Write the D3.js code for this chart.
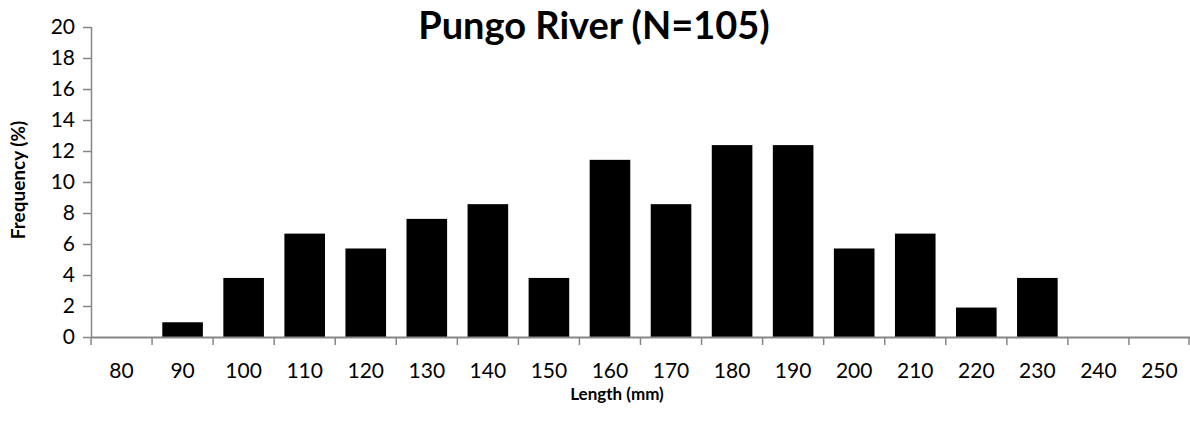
<!DOCTYPE html>
<html>
<head>
<meta charset="utf-8">
<script src="https://cdn.jsdelivr.net/npm/d3@7"></script>
<style>
  body { margin: 0; background: #fff; }
  svg { display: block; font-family: Lato, "Open Sans", sans-serif; }
</style>
</head>
<body>
<div id="plot"></div>
<script>
// Length classes (mm) and percent frequency, N = 105
var lengths = ["80", "90", "100", "110", "120", "130", "140", "150", "160", "170",
               "180", "190", "200", "210", "220", "230", "240", "250"];
var freq = [0, 0.95, 3.81, 6.67, 5.71, 7.62, 8.57, 3.81, 11.43, 8.57,
            12.38, 12.38, 5.71, 6.67, 1.90, 3.81, 0, 0];
var yTicks = [0, 2, 4, 6, 8, 10, 12, 14, 16, 18, 20];

var W = 1190, H = 421;
var margin = {top: 27, right: 0, bottom: 84, left: 91};
var width = W - margin.left - margin.right,
    height = H - margin.top - margin.bottom;

var svg = d3.select("#plot").append("svg")
    .attr("width", W)
    .attr("height", H);

var g = svg.append("g")
    .attr("transform", "translate(" + margin.left + "," + margin.top + ")");

var x = d3.scaleBand()
    .domain(lengths)
    .range([0, width])
    .paddingInner(0.335)
    .paddingOuter(0.1675);

var y = d3.scaleLinear()
    .domain([0, 20])
    .range([height, 0]);

// bars
g.selectAll("rect.bar")
    .data(lengths.map(function(d, i) { return {len: d, v: freq[i]}; }))
    .enter().append("rect")
    .attr("class", "bar")
    .attr("x", function(d) { return x(d.len); })
    .attr("y", function(d) { return y(d.v); })
    .attr("width", x.bandwidth())
    .attr("height", function(d) { return height - y(d.v); })
    .attr("fill", "#000");

// y axis
var yAxis = g.append("g")
    .call(d3.axisLeft(y).tickValues(yTicks).tickSize(8).tickPadding(8));
yAxis.select(".domain").attr("stroke", "#868686").attr("stroke-width", 1.5)
    .attr("d", "M0.5," + y(20) + "V" + y(0));
yAxis.selectAll(".tick line").attr("stroke", "#868686").attr("stroke-width", 1.5);
yAxis.selectAll(".tick text").attr("font-size", 21).attr("fill", "#000")
    .attr("font-family", "Lato");

// x axis: ticks at category boundaries
var step = x.step();
var xAxis = g.append("g").attr("transform", "translate(0," + height + ")");
xAxis.append("line")
    .attr("x1", 0).attr("x2", width)
    .attr("y1", 0.5).attr("y2", 0.5)
    .attr("stroke", "#868686").attr("stroke-width", 2);
xAxis.selectAll("line.tk")
    .data(d3.range(lengths.length + 1))
    .enter().append("line")
    .attr("class", "tk")
    .attr("x1", function(i) { return Math.min(i * step, width - 1); })
    .attr("x2", function(i) { return Math.min(i * step, width - 1); })
    .attr("y1", 0).attr("y2", 8)
    .attr("stroke", "#868686").attr("stroke-width", 1.5);
xAxis.selectAll("text.lbl")
    .data(lengths)
    .enter().append("text")
    .attr("class", "lbl")
    .attr("x", function(d) { return x(d) + x.bandwidth() / 2; })
    .attr("y", 41)
    .attr("text-anchor", "middle")
    .attr("font-size", 21)
    .text(function(d) { return d; });

// title
svg.append("text")
    .attr("x", 594)
    .attr("y", 39)
    .attr("text-anchor", "middle")
    .attr("font-weight", "bold")
    .attr("font-size", 38)
    .text("Pungo River (N=105)");

// axis titles
svg.append("text")
    .attr("x", 617)
    .attr("y", 400)
    .attr("text-anchor", "middle")
    .attr("font-weight", "bold")
    .attr("font-size", 17)
    .text("Length (mm)");

svg.append("text")
    .attr("transform", "translate(25,180) rotate(-90)")
    .attr("text-anchor", "middle")
    .attr("font-weight", "bold")
    .attr("font-size", 19)
    .text("Frequency (%)");
</script>
</body>
</html>
